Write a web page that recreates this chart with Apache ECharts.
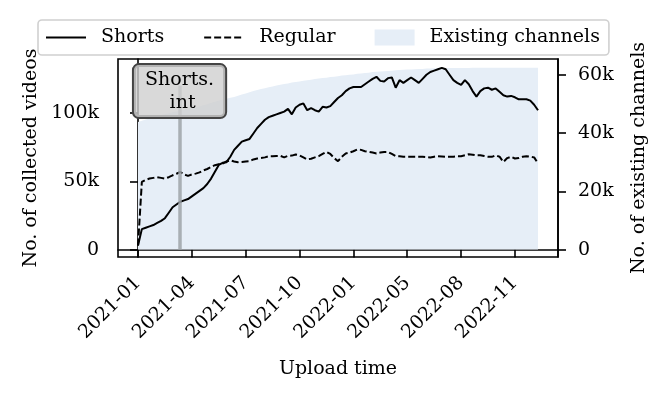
<!DOCTYPE html>
<html>
<head>
<meta charset="utf-8">
<script src="https://cdn.jsdelivr.net/npm/echarts@6/dist/echarts.min.js"></script>
<style>
  html, body { margin: 0; padding: 0; background: #fff; }
  #chart { width: 665px; height: 398px; }
</style>
</head>
<body>
<div id="chart"></div>
<script>
// weekly points from 2021-01 to 2022-12, values in thousands
const shorts = [3, 15, 16, 17, 18, 19.5, 21, 23, 27, 31,
  33, 35, 36, 37, 39, 41, 43, 45, 48, 52,
  57, 62, 63.5, 64, 68, 73, 76, 79, 80, 81,
  85, 89, 92, 95, 97, 98, 99, 100, 101, 103,
  99, 104, 106, 107, 102, 103.5, 102, 101, 104.5, 104,
  105, 108, 111, 113, 116, 118, 119, 119, 119, 121,
  123, 125, 126.5, 123.5, 123, 125.5, 126, 118.5, 124, 122,
  124, 126, 124, 122, 125, 128, 130, 131, 132, 133,
  132, 128, 124, 122, 120.5, 124, 121, 116, 112, 116,
  118, 118.5, 117, 118, 115.5, 113, 112, 112.5, 111.5, 110,
  110, 110, 109, 106, 102];
const regular = [3, 49.5, 51, 52, 52.5, 53, 52.5, 52, 53, 54.4,
  55.5, 56.8, 55, 54, 55, 55.6, 56.5, 58, 59, 60.5,
  61.8, 62.5, 63, 64.5, 65.4, 64.5, 64, 64.2, 64.5, 64.7,
  66, 66.7, 67, 67.5, 68.4, 68.4, 68.6, 68.6, 67.5, 68.6,
  68.8, 69.6, 69, 67.5, 66, 66.5, 67.5, 68.4, 70, 71.5,
  70, 67, 64.7, 68, 70.4, 71, 72, 73.3, 73, 72,
  71.5, 71, 70.4, 71, 71.5, 71.5, 70, 68.4, 68.4, 68,
  68, 68, 68, 68, 68, 67.8, 67.4, 68, 68.4, 68.2,
  68, 68, 68, 68.4, 68.4, 69, 69.8, 69.5, 69, 69,
  68.5, 68, 67.9, 69, 68, 64.2, 67, 68, 66.7, 67,
  68, 68.4, 68, 67.5, 63];
const channels = [43.8, 44.2, 44.6, 45.0, 45.4, 45.7, 46.1, 46.4, 46.8, 47.1,
  47.4, 47.7, 48.0, 48.3, 48.6, 48.8, 49.1, 49.5, 49.9, 50.3,
  50.7, 51.1, 51.5, 51.8, 52.1, 52.4, 52.8, 53.2, 53.6, 54.0,
  54.4, 54.8, 55.1, 55.4, 55.7, 56.0, 56.3, 56.6, 56.8, 57.0,
  57.3, 57.5, 57.7, 57.9, 58.1, 58.3, 58.5, 58.7, 58.9, 59.0,
  59.2, 59.3, 59.5, 59.7, 59.8, 60.0, 60.1, 60.3, 60.4, 60.6,
  60.7, 60.9, 61.0, 61.1, 61.2, 61.3, 61.4, 61.5, 61.6, 61.7,
  61.8, 61.8, 61.9, 62.0, 62.0, 62.1, 62.1, 62.2, 62.2, 62.2,
  62.3, 62.3, 62.3, 62.3, 62.3, 62.3, 62.3, 62.4, 62.4, 62.4,
  62.4, 62.4, 62.4, 62.4, 62.4, 62.4, 62.4, 62.4, 62.4, 62.4,
  62.4, 62.4, 62.4, 62.4, 62.4];
const tickPos = [0, 14, 28, 42, 56, 70, 84, 98];
const tickLabels = ['2021-01', '2021-04', '2021-07', '2021-10', '2022-01', '2022-05', '2022-08', '2022-11'];
const leftTicks = [0, 50000, 100000];
const rightTicks = [0, 20000, 40000, 60000];
const shortsIntro = 10.8;

const font = 'DejaVu Serif';
const fs = 19;
const kfmt = v => v === 0 ? '0' : (v / 1000) + 'k';
const toPts = arr => arr.map((v, i) => [i, v * 1000]);

const chart = echarts.init(document.getElementById('chart'));

const axisCommon = {
  axisLine: { show: true, lineStyle: { color: '#000', width: 1.6 } },
  splitLine: { show: false },
  nameLocation: 'middle',
  nameTextStyle: { fontFamily: font, fontSize: fs, color: '#000' }
};
const tick = vals => ({ show: true, length: 8, customValues: vals, lineStyle: { color: '#000', width: 1.6 } });

var option = {
  animation: false,
  grid: {
    left: 118, right: 107, top: 59, bottom: 141,
    show: true, borderColor: '#000', borderWidth: 1.6
  },
  legend: {
    top: 20,
    left: 38,
    padding: [8, 9, 8, 7],
    backgroundColor: '#fff',
    borderColor: '#d0d0d0',
    borderWidth: 1.6,
    borderRadius: 4,
    itemWidth: 40,
    itemHeight: 16,
    itemGap: 39,
    textStyle: { fontFamily: font, fontSize: fs, color: '#000', padding: [0, 0, 0, 10] },
    data: [
      { name: 'Shorts', itemStyle: { opacity: 0 } },
      { name: 'Regular', itemStyle: { opacity: 0 } },
      { name: 'Existing channels', icon: 'rect' }
    ]
  },
  xAxis: Object.assign({}, axisCommon, {
    type: 'value',
    min: -5.2,
    max: 109.2,
    name: 'Upload time',
    nameGap: 103,
    axisTick: tick(tickPos),
    axisLabel: {
      customValues: tickPos,
      rotate: 45,
      margin: 23,
      fontFamily: font, fontSize: fs, color: '#000',
      formatter: v => tickLabels[tickPos.indexOf(v)] || ''
    }
  }),
  yAxis: [
    Object.assign({}, axisCommon, {
      type: 'value',
      min: -5400,
      max: 139500,
      name: 'No. of collected videos',
      nameGap: 77,
      axisTick: tick(leftTicks),
      axisLabel: { customValues: leftTicks, margin: 19, fontFamily: font, fontSize: fs, color: '#000', formatter: kfmt }
    }),
    Object.assign({}, axisCommon, {
      type: 'value',
      position: 'right',
      min: -2550,
      max: 65400,
      name: 'No. of existing channels',
      nameGap: 72,
      axisTick: tick(rightTicks),
      axisLabel: { customValues: rightTicks, margin: 20, fontFamily: font, fontSize: fs, color: '#000', formatter: kfmt }
    })
  ],
  series: [
    {
      name: 'Existing channels',
      type: 'line',
      yAxisIndex: 1,
      z: 1,
      symbol: 'none',
      color: '#e6eef7',
      lineStyle: { width: 0 },
      areaStyle: { color: '#e6eef7', opacity: 1 },
      data: toPts(channels)
    },
    {
      name: 'Shorts',
      type: 'line',
      z: 3,
      symbol: 'none',
      color: '#000',
      lineStyle: { color: '#000', width: 2 },
      data: toPts(shorts),
      markLine: {
        silent: true,
        symbol: ['none', 'none'],
        label: { show: false },
        lineStyle: { color: '#9ea3a8', width: 3.5, type: 'solid', opacity: 0.85 },
        data: [[{ coord: [shortsIntro, 0] }, { coord: [shortsIntro, 120000] }]]
      },
      markPoint: {
        silent: true,
        symbol: 'rect',
        symbolSize: 1,
        itemStyle: { color: 'rgba(0,0,0,0)' },
        label: {
          show: true,
          position: 'inside',
          formatter: 'Shorts.\n int',
          fontFamily: font,
          fontSize: fs,
          lineHeight: 23,
          color: '#000',
          align: 'center',
          backgroundColor: 'rgba(208,208,208,0.8)',
          borderColor: '#444',
          borderWidth: 2,
          borderRadius: 5,
          padding: [3, 11]
        },
        data: [{ coord: [shortsIntro, 116000] }]
      }
    },
    {
      name: 'Regular',
      type: 'line',
      z: 2,
      symbol: 'none',
      color: '#000',
      lineStyle: { color: '#000', width: 2, type: [7, 3] },
      data: toPts(regular)
    }
  ]
};

chart.setOption(option);
</script>
</body>
</html>
